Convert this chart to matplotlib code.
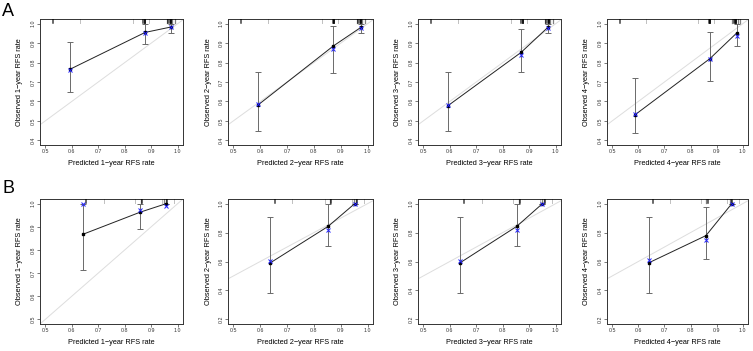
import numpy as np
import matplotlib.pyplot as plt

plt.rcParams['font.family'] = ['Liberation Sans', 'DejaVu Sans']

years = [1, 2, 3, 4]

# cohort A: mean predicted, observed (KM), bias-corrected, CI bounds
a_pred = [[0.594, 0.877, 0.975], [0.592, 0.872, 0.975], [0.592, 0.869, 0.972], [0.588, 0.874, 0.976]]
a_obs = [[0.766, 0.955, 0.983], [0.582, 0.885, 0.981], [0.577, 0.852, 0.983], [0.532, 0.820, 0.951]]
a_corr = [[0.764, 0.953, 0.981], [0.585, 0.870, 0.977], [0.584, 0.838, 0.976], [0.534, 0.818, 0.939]]
a_low = [[0.651, 0.894, 0.951], [0.446, 0.746, 0.951], [0.447, 0.749, 0.951], [0.437, 0.707, 0.884]]
a_high = [[0.905, 1.0, 1.0], [0.752, 0.986, 1.0], [0.750, 0.972, 1.0], [0.723, 0.955, 1.0]]

# cohort B
b_pred = [[0.641, 0.858, 0.957], [0.637, 0.853, 0.952], [0.638, 0.853, 0.950], [0.639, 0.859, 0.958]]
b_obs = [[0.867, 0.963, 1.0], [0.590, 0.843, 1.0], [0.590, 0.843, 1.0], [0.590, 0.779, 1.0]]
b_corr = [[0.999, 0.971, 0.989], [0.602, 0.819, 1.0], [0.606, 0.817, 1.0], [0.611, 0.747, 1.0]]
b_low = [[0.713, 0.891, 1.0], [0.382, 0.710, 1.0], [0.382, 0.710, 1.0], [0.382, 0.620, 1.0]]
b_high = [[1.0, 1.0, 1.0], [0.906, 1.0, 1.0], [0.906, 1.0, 1.0], [0.906, 0.977, 1.0]]

# distribution of predicted values (rug at top)
a_rug = [0.53, 0.63, 0.83, 0.87, 0.875, 0.89, 0.96, 0.965, 0.97, 0.975, 0.98, 0.99]
a_rug_n = [3, 1, 1, 3, 4, 1, 2, 3, 3, 4, 2, 2]
b_rug = [0.655, 0.72, 0.84, 0.86, 0.865, 0.94, 0.95, 0.955, 0.96, 0.985]
b_rug_n = [3, 1, 1, 2, 3, 1, 2, 2, 3, 1]

col_left = [40, 228, 418, 607]
col_width = [143, 145, 143, 141]
W, H = 753, 351

fig = plt.figure(figsize=(W / 100, H / 100), dpi=100)


def panel(left, top, width, height, pred, obs, corr, low, high, rug, rug_n, yr, ylim, yticks):
    ax = fig.add_axes([left / W, 1 - (top + height) / H, width / W, height / H])
    ax.plot([0, 1.1], [0, 1.1], color='#dddddd', lw=0.7, zorder=1)
    yerr = [np.array(obs) - np.array(low), np.array(high) - np.array(obs)]
    ax.errorbar(pred, obs, yerr=yerr, fmt='none', ecolor='#6a6a6a', elinewidth=0.7,
                capsize=2, capthick=0.7, zorder=2)
    ax.plot(pred, obs, color='#222222', lw=0.7, zorder=3)
    ax.plot(pred, obs, 's', color='black', ms=1.8, zorder=4)
    ax.plot(pred, corr, 'x', color='#2020ff', ms=2.6, mew=0.7, zorder=5)
    for x, n in zip(rug, rug_n):
        ax.plot([x, x], [0.972, 1.0], transform=ax.get_xaxis_transform(),
                color='black', lw=0.5 + 0.2 * n, alpha=min(1, 0.25 * n), zorder=3)
    ax.set_xlim(0.48, 1.02)
    ax.set_ylim(*ylim)
    ax.set_xticks(np.arange(0.5, 1.01, 0.1))
    ax.set_yticks(yticks)
    ax.set_xticklabels([f'{v:.1f}' for v in np.arange(0.5, 1.01, 0.1)])
    ax.set_yticklabels([f'{v:.1f}' for v in yticks], rotation=90, va='center')
    ax.tick_params(length=2, width=0.5, labelsize=3.8, pad=1.2, color='#444444',
                   labelcolor='#333333')
    for s in ax.spines.values():
        s.set_linewidth(0.7)
        s.set_color('#333333')
    ax.set_xlabel(f'Predicted {yr}\u2212year RFS rate', fontsize=5.3, va='center')
    ax.set_ylabel(f'Observed {yr}\u2212year RFS rate', fontsize=5.3, va='center')
    ax.xaxis.set_label_coords(0.5, -19 / height)
    ax.yaxis.set_label_coords(-20 / width, 0.5)
    return ax


for i in range(4):
    panel(col_left[i], 19, col_width[i], 126, a_pred[i], a_obs[i], a_corr[i], a_low[i], a_high[i],
          a_rug, a_rug_n, years[i], (0.376, 1.024), np.arange(0.4, 1.01, 0.1))

for i in range(4):
    if i == 0:
        ylim, yt = (0.48, 1.02), np.arange(0.5, 1.01, 0.1)
    else:
        ylim, yt = (0.168, 1.032), np.arange(0.2, 1.01, 0.2)
    panel(col_left[i], 199, col_width[i], 125, b_pred[i], b_obs[i], b_corr[i], b_low[i], b_high[i],
          b_rug, b_rug_n, years[i], ylim, yt)

fig.text(2 / W, 1 - 3 / H, 'A', fontsize=13, va='top', ha='left')
fig.text(3 / W, 1 - 180 / H, 'B', fontsize=13, va='top', ha='left')

fig.savefig('out.png', dpi=100)
